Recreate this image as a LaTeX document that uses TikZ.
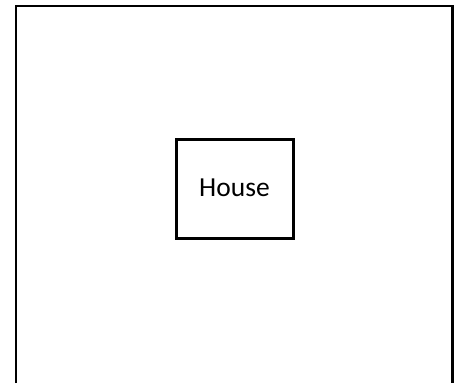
\documentclass[tikz,border=0pt]{standalone}
\usepackage{fontspec}
\setmainfont{Carlito}
\begin{document}
\begin{tikzpicture}[x=1pt,y=1pt,
  outerline/.style={draw=black,line width=2.5pt,line join=miter},
  housebox/.style={draw=black,line width=3pt,minimum width=117pt,minimum height=98pt,inner sep=0pt,font=\fontsize{27.5}{32}\selectfont}]
\useasboundingbox (0,0) rectangle (454,383);
\coordinate (bl) at (16,0);
\coordinate (tl) at (16,377);
\coordinate (tr) at (452.5,377);
\coordinate (br) at (452.5,0);
\draw[outerline] (bl) -- (tl) -- (tr) -- (br);
\node[housebox] (house) at (234.5,194) {\raisebox{3pt}{House}};
\end{tikzpicture}
\end{document}
